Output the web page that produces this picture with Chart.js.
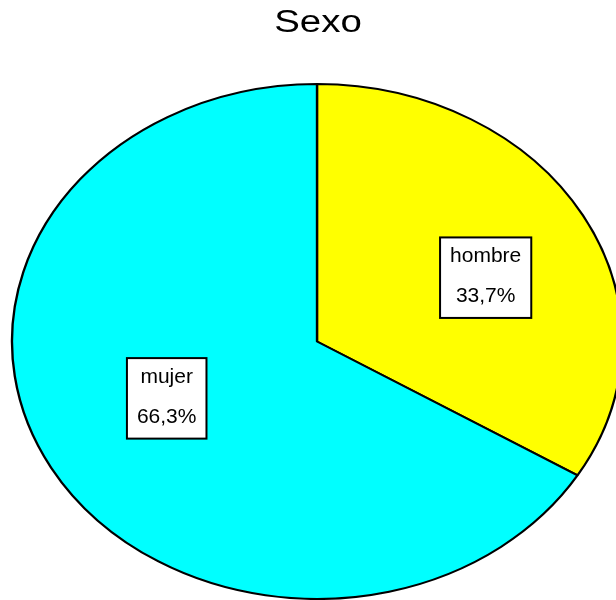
<!DOCTYPE html>
<html>
<head>
<meta charset="utf-8">
<title>Sexo</title>
<script src="https://cdn.jsdelivr.net/npm/chart.js@4/dist/chart.umd.min.js"></script>
<style>
  html, body { margin: 0; padding: 0; background: #ffffff; }
  #wrap { width: 616px; height: 600px; }
</style>
</head>
<body>
<div id="wrap"><canvas id="pie" width="616" height="600"></canvas></div>
<script>
// Chart data
const titleText = 'Sexo';
const categories = ['hombre', 'mujer'];
const percentages = [33.7, 66.3];
const sliceColors = ['#FFFF00', '#00FFFF'];

// Label placement along each slice (fraction of the radius, extra turn in degrees)
const labelRadius = [0.606, 0.54];
const labelTurn = 5.2;

// Horizontal stretch turning the round pie into an ellipse
const ellipseRatio = 305 / 257.5;
const FONT = '"Liberation Sans", Arial, Helvetica, sans-serif';

function formatPercent(v) {
  return v.toFixed(1).replace('.', ',') + '%';
}

// Stretch the drawn slices horizontally around the pie centre
const ellipsePie = {
  id: 'ellipsePie',
  beforeDatasetsDraw(chart) {
    const arc = chart.getDatasetMeta(0).data[0];
    const ctx = chart.ctx;
    ctx.save();
    ctx.translate(arc.x, arc.y);
    ctx.scale(ellipseRatio, 1);
    ctx.translate(-arc.x, -arc.y);
  },
  afterDatasetsDraw(chart) {
    chart.ctx.restore();
  }
};

// Boxed category / percentage labels inside each slice
const sliceLabels = {
  id: 'sliceLabels',
  afterDatasetsDraw(chart) {
    const ctx = chart.ctx;
    const meta = chart.getDatasetMeta(0);
    meta.data.forEach((arc, i) => {
      const mid = (arc.startAngle + arc.endAngle) / 2 + labelTurn * Math.PI / 180;
      const r = arc.outerRadius * labelRadius[i];
      const cx = arc.x + r * ellipseRatio * Math.cos(mid);
      const cy = arc.y + r * Math.sin(mid);
      const line1 = categories[i];
      const line2 = formatPercent(percentages[i]);
      ctx.save();
      ctx.font = '21px ' + FONT;
      const w = Math.max(ctx.measureText(line1).width, ctx.measureText(line2).width) + 20;
      const h = 80.5;
      const left = cx - w / 2;
      const top = cy - h / 2;
      ctx.fillStyle = '#ffffff';
      ctx.fillRect(left, top, w, h);
      ctx.strokeStyle = '#000000';
      ctx.lineWidth = 2;
      ctx.strokeRect(left, top, w, h);
      ctx.fillStyle = '#000000';
      ctx.textAlign = 'center';
      ctx.textBaseline = 'alphabetic';
      ctx.fillText(line1, cx, top + 25);
      ctx.fillText(line2, cx, top + 64.5);
      ctx.restore();
    });
  }
};

// Wide title above the pie
const stretchedTitle = {
  id: 'stretchedTitle',
  afterDraw(chart) {
    const ctx = chart.ctx;
    ctx.save();
    ctx.translate(318, 31.5);
    ctx.scale(1.24, 1);
    ctx.font = '31px ' + FONT;
    ctx.fillStyle = '#000000';
    ctx.textAlign = 'center';
    ctx.textBaseline = 'alphabetic';
    ctx.fillText(titleText, 0, 0);
    ctx.restore();
  }
};

new Chart(document.getElementById('pie'), {
  type: 'pie',
  data: {
    labels: categories,
    datasets: [{
      data: percentages,
      backgroundColor: sliceColors,
      borderColor: '#000000',
      borderWidth: 2,
      radius: 257.5
    }]
  },
  options: {
    responsive: false,
    animation: false,
    layout: { padding: { left: 18, right: 0, top: 83, bottom: 0 } },
    plugins: {
      legend: { display: false },
      title: { display: false },
      tooltip: { enabled: false }
    }
  },
  plugins: [ellipsePie, sliceLabels, stretchedTitle]
});
</script>
</body>
</html>
